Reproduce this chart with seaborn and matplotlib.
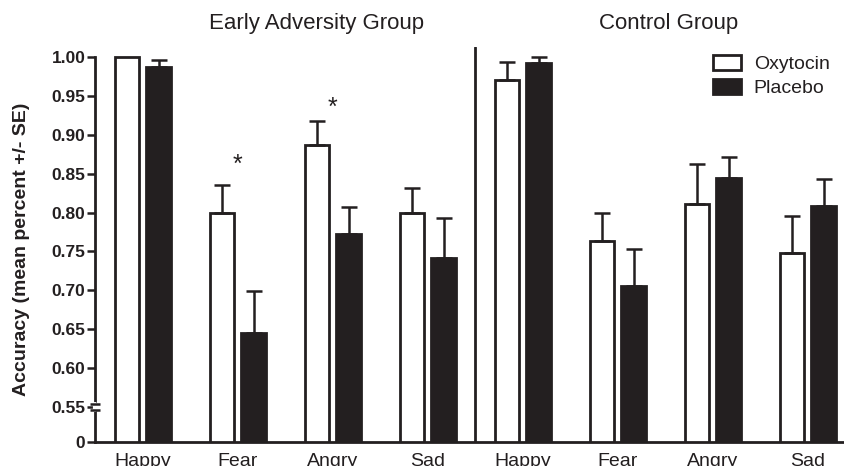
import numpy as np
import pandas as pd
import seaborn as sns
import matplotlib
matplotlib.use("Agg")
import matplotlib.pyplot as plt
import matplotlib.transforms as mtransforms

# ---- data ----
categories = ["Happy", "Fear", "Angry", "Sad", "Happy", "Fear", "Angry", "Sad"]
groups = ["Early Adversity Group"] * 4 + ["Control Group"] * 4
treatments = ["Oxytocin", "Placebo"]
oxytocin_mean = [1.000, 0.800, 0.887, 0.800, 0.970, 0.764, 0.811, 0.748]
oxytocin_se = [0.000, 0.035, 0.031, 0.032, 0.024, 0.035, 0.052, 0.048]
placebo_mean = [0.987, 0.645, 0.772, 0.741, 0.993, 0.705, 0.844, 0.809]
placebo_se = [0.009, 0.054, 0.035, 0.052, 0.007, 0.048, 0.027, 0.034]
star_cats = [1, 2]          # Fear & Angry in early adversity group
star_y = [0.862, 0.935]
yticks = [0.55, 0.60, 0.65, 0.70, 0.75, 0.80, 0.85, 0.90, 0.95, 1.00]

DARK = "#231f20"
keys = [f"{g}|{c}" for g, c in zip(groups, categories)]

df = pd.DataFrame({
    "key": keys * 2,
    "Treatment": ["Oxytocin"] * 8 + ["Placebo"] * 8,
    "Accuracy": oxytocin_mean + placebo_mean,
})

sns.set_theme(style="white")
plt.rcParams["font.family"] = ["Liberation Sans", "DejaVu Sans"]
plt.rcParams["text.color"] = DARK
plt.rcParams["axes.labelcolor"] = DARK
plt.rcParams["xtick.color"] = DARK
plt.rcParams["ytick.color"] = DARK

fig = plt.figure(figsize=(8.44, 4.66), dpi=100)
ax = fig.add_axes([95 / 844, 24 / 466, 1 - 95 / 844, 395 / 466])

sns.barplot(data=df, x="key", y="Accuracy", hue="Treatment", order=keys,
            hue_order=treatments, palette={"Oxytocin": "white", "Placebo": DARK},
            saturation=1, width=0.67, gap=0.22, edgecolor=DARK, linewidth=2,
            errorbar=None, ax=ax)

# error bars (upward only), positioned on the drawn bars
for cont, se in zip(ax.containers, [oxytocin_se, placebo_se]):
    xs, hs, es = [], [], []
    for p, e in zip(cont.patches, se):
        if e > 0:
            xs.append(p.get_x() + p.get_width() / 2)
            hs.append(p.get_height())
            es.append(e)
    ax.errorbar(xs, hs, yerr=[np.zeros(len(es)), es], fmt="none", ecolor=DARK,
                elinewidth=1.8, capsize=5.5, capthick=1.8, zorder=1)

BOTTOM = 0.505
ax.set_xlim(-0.505, 7.38)
ax.set_ylim(BOTTOM, 1.013)

ax.set_yticks([BOTTOM] + yticks)
ax.set_yticklabels(["0"] + [f"{v:.2f}" for v in yticks], fontweight="bold", fontsize=12.5)
ax.set_xticks(range(len(categories)))
ax.set_xticklabels(categories, fontsize=14)
ax.tick_params(axis="x", length=0, pad=8)
ax.tick_params(axis="y", length=6, width=1.8, pad=1, left=True)

for s in ["top", "right"]:
    ax.spines[s].set_visible(False)
for s in ["left", "bottom"]:
    ax.spines[s].set_linewidth(2)
    ax.spines[s].set_color(DARK)
ax.spines["left"].set_bounds(BOTTOM, 1.0)

ax.set_xlabel("")
ax.set_ylabel("Accuracy (mean percent +/- SE)", fontweight="bold", fontsize=14)
ax.yaxis.set_label_coords(-0.087, 0.489)

# divider between groups
ax.axvline(3.5, color=DARK, lw=2, ymin=0, ymax=1)

# axis break marks
bt = mtransforms.blended_transform_factory(ax.transAxes, ax.transData)
ax.plot([0, 0], [0.5462, 0.5538], transform=bt, color="white", lw=3, clip_on=False, zorder=5)
for yb in [0.5462, 0.5538]:
    ax.plot([-0.007, 0.007], [yb, yb], transform=bt, color=DARK, lw=1.8,
            clip_on=False, zorder=6, solid_capstyle="butt")

# significance stars
for xc, yc in zip(star_cats, star_y):
    ax.text(xc, yc, "*", ha="center", va="center", fontsize=18, color=DARK)

# group titles
tt = mtransforms.blended_transform_factory(ax.transData, fig.transFigure)
ax.text(1.83, 1 - 24 / 466, "Early Adversity Group", transform=tt, ha="center",
        va="center", fontsize=16)
ax.text(5.53, 1 - 24 / 466, "Control Group", transform=tt, ha="center",
        va="center", fontsize=16)

sns.move_legend(ax, "upper left", bbox_to_anchor=(713 / 844, 1 - 55 / 466),
                bbox_transform=fig.transFigure, frameon=False, title=None,
                fontsize=14, handlelength=1.45, handleheight=0.8,
                handletextpad=0.65, labelspacing=0.3, borderpad=0, borderaxespad=0)

fig.savefig("out.png", dpi=100)
